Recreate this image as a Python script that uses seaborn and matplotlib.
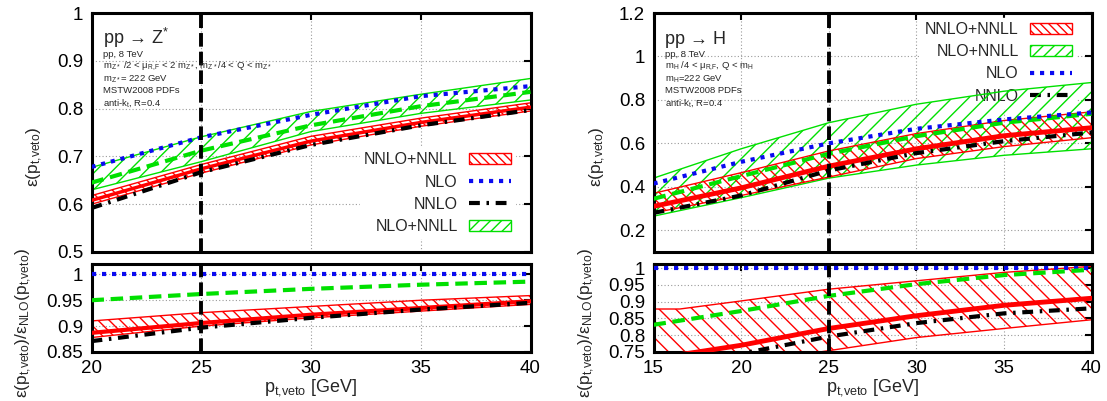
import matplotlib
matplotlib.use("Agg")
import matplotlib.pyplot as plt
import seaborn as sns
from matplotlib.lines import Line2D
from matplotlib.patches import Patch
from matplotlib.ticker import FuncFormatter, MultipleLocator

# ---- pp -> Z* (left column) ----
z_pt = [20, 25, 30, 35, 40]
z_nlo = [0.678, 0.740, 0.787, 0.826, 0.847]
z_nnlo = [0.592, 0.667, 0.724, 0.765, 0.797]
z_nnlo_nnll = [0.608, 0.674, 0.732, 0.771, 0.803]
z_nnlo_nnll_hi = [0.618, 0.683, 0.742, 0.780, 0.812]
z_nnlo_nnll_lo = [0.600, 0.665, 0.724, 0.763, 0.795]
z_nlo_nnll = [0.645, 0.712, 0.765, 0.805, 0.835]
z_nlo_nnll_hi = [0.677, 0.741, 0.794, 0.830, 0.863]
z_nlo_nnll_lo = [0.630, 0.689, 0.752, 0.790, 0.818]
# ratios to NLO
z_r_nlo = [1.0, 1.0, 1.0, 1.0, 1.0]
z_r_nlo_nnll = [0.950, 0.962, 0.972, 0.980, 0.986]
z_r_nnlo = [0.871, 0.897, 0.916, 0.932, 0.945]
z_r_nnlo_nnll = [0.887, 0.906, 0.922, 0.935, 0.948]
z_r_nnlo_nnll_hi = [0.910, 0.926, 0.938, 0.950, 0.959]
z_r_nnlo_nnll_lo = [0.878, 0.900, 0.916, 0.929, 0.942]

# ---- pp -> H (right column) ----
h_pt = [15, 20, 25, 30, 35, 40]
h_nlo = [0.415, 0.515, 0.600, 0.667, 0.710, 0.742]
h_nnlo = [0.280, 0.360, 0.475, 0.555, 0.610, 0.650]
h_nnlo_nnll = [0.310, 0.395, 0.495, 0.575, 0.635, 0.672]
h_nnlo_nnll_hi = [0.370, 0.465, 0.565, 0.645, 0.705, 0.745]
h_nnlo_nnll_lo = [0.280, 0.360, 0.445, 0.530, 0.585, 0.626]
h_nlo_nnll = [0.345, 0.449, 0.552, 0.633, 0.695, 0.736]
h_nlo_nnll_hi = [0.440, 0.575, 0.695, 0.780, 0.840, 0.880]
h_nlo_nnll_lo = [0.265, 0.350, 0.440, 0.500, 0.545, 0.575]
# ratios to NLO
h_r_nlo = [1.0, 1.0, 1.0, 1.0, 1.0, 1.0]
h_r_nlo_nnll = [0.831, 0.872, 0.917, 0.952, 0.979, 0.995]
h_r_nnlo = [0.700, 0.745, 0.796, 0.836, 0.865, 0.880]
h_r_nnlo_nnll = [0.730, 0.770, 0.820, 0.858, 0.889, 0.910]
h_r_band_pt = [15, 16.5, 20, 25, 30, 35, 40]
h_r_nnlo_nnll_hi = [0.878, 0.878, 0.902, 0.937, 0.962, 0.987, 1.005]
h_r_nnlo_nnll_lo = [0.680, 0.690, 0.715, 0.754, 0.793, 0.820, 0.846]

pt_veto = 25

RED = "#ff0000"
BLUE = "#0a0af0"
GREEN = "#00e000"
BLACK = "#000000"

sns.set_style("white")
plt.rcParams["font.family"] = ["Liberation Sans", "DejaVu Sans"]
plt.rcParams["mathtext.default"] = "regular"
plt.rcParams["hatch.linewidth"] = 1.0

fig = plt.figure(figsize=(11.07, 4.01), dpi=100)
W, H = 1107.0, 401.0


def axes_px(x0, y0, x1, y1):
    return fig.add_axes([x0 / W, 1 - y1 / H, (x1 - x0) / W, (y1 - y0) / H])


ax_zt = axes_px(91.5, 13, 530.5, 252)
ax_zb = axes_px(91.5, 264, 530.5, 352)
ax_ht = axes_px(653.5, 13, 1091.5, 252)
ax_hb = axes_px(653.5, 264, 1091.5, 352)

DOT = (0, (1.0, 1.4))
DASH = (0, (3.0, 1.6))
DASHDOT = (0, (2.6, 1.6, 0.6, 1.6))


def band(ax, x, lo, hi, color, hatch):
    ax.fill_between(x, lo, hi, facecolor="none", edgecolor=color,
                    hatch=hatch, linewidth=0, zorder=2)
    sns.lineplot(x=x, y=lo, ax=ax, color=color, linewidth=1.0, zorder=2)
    sns.lineplot(x=x, y=hi, ax=ax, color=color, linewidth=1.0, zorder=2)


def curve(ax, x, y, color, ls, lw=3.0):
    sns.lineplot(x=x, y=y, ax=ax, color=color, linewidth=lw,
                 linestyle=ls, zorder=4)


def style(ax, xlim, ylim, ystep, xlabels=True):
    ax.set_xlim(*xlim)
    ax.set_ylim(*ylim)
    ax.xaxis.set_major_locator(MultipleLocator(5))
    ax.yaxis.set_major_locator(MultipleLocator(ystep))
    ax.yaxis.set_major_formatter(FuncFormatter(lambda v, p: "%g" % round(v, 3)))
    ax.grid(True, color="#9a9a9a", linestyle=(0, (1, 2)), linewidth=0.8)
    ax.set_axisbelow(True)
    ax.tick_params(direction="in", length=5, width=1.5, top=True, right=True,
                   labelsize=13.5, pad=6, colors="black")
    for s in ax.spines.values():
        s.set_linewidth(2.2)
        s.set_color("black")
    if not xlabels:
        ax.tick_params(labelbottom=False)
    ax.axvline(pt_veto, color=BLACK, linewidth=2.8,
               linestyle=(0, (3.5, 1.3)), zorder=6)


hatch_red = "\\\\\\"
hatch_green = "//"

# left top
band(ax_zt, z_pt, z_nlo_nnll_lo, z_nlo_nnll_hi, GREEN, hatch_green)
curve(ax_zt, z_pt, z_nlo_nnll, GREEN, DASH)
band(ax_zt, z_pt, z_nnlo_nnll_lo, z_nnlo_nnll_hi, RED, hatch_red)
curve(ax_zt, z_pt, z_nnlo_nnll, RED, "-", 2.5)
curve(ax_zt, z_pt, z_nnlo, BLACK, DASHDOT)
curve(ax_zt, z_pt, z_nlo, BLUE, DOT)
style(ax_zt, (20, 40), (0.5, 1.0), 0.1, xlabels=False)

# left bottom
curve(ax_zb, z_pt, z_r_nlo, BLUE, DOT)
curve(ax_zb, z_pt, z_r_nlo_nnll, GREEN, DASH)
band(ax_zb, z_pt, z_r_nnlo_nnll_lo, z_r_nnlo_nnll_hi, RED, hatch_red)
curve(ax_zb, z_pt, z_r_nnlo_nnll, RED, "-", 3.0)
curve(ax_zb, z_pt, z_r_nnlo, BLACK, DASHDOT)
style(ax_zb, (20, 40), (0.85, 1.02), 0.05)

# right top
band(ax_ht, h_pt, h_nlo_nnll_lo, h_nlo_nnll_hi, GREEN, hatch_green)
band(ax_ht, h_pt, h_nnlo_nnll_lo, h_nnlo_nnll_hi, RED, hatch_red)
curve(ax_ht, h_pt, h_nlo_nnll, GREEN, DASH)
curve(ax_ht, h_pt, h_nnlo_nnll, RED, "-", 3.5)
curve(ax_ht, h_pt, h_nnlo, BLACK, DASHDOT)
curve(ax_ht, h_pt, h_nlo, BLUE, DOT)
style(ax_ht, (15, 40), (0.1, 1.2), 0.2, xlabels=False)

# right bottom
band(ax_hb, h_r_band_pt, h_r_nnlo_nnll_lo, h_r_nnlo_nnll_hi, RED, "\\\\")
curve(ax_hb, h_pt, h_r_nlo, BLUE, DOT)
curve(ax_hb, h_pt, h_r_nlo_nnll, GREEN, DASH)
curve(ax_hb, h_pt, h_r_nnlo_nnll, RED, "-", 3.5)
curve(ax_hb, h_pt, h_r_nnlo, BLACK, DASHDOT)
style(ax_hb, (15, 40), (0.75, 1.012), 0.05)

# labels
top_lab = "ε(p$_{t{,}veto}$)"
bot_lab = "ε(p$_{t{,}veto}$)/ε$_{NLO}$(p$_{t{,}veto}$)"
for ax in (ax_zt, ax_ht):
    ax.set_ylabel(top_lab, fontsize=12.5)
    ax.yaxis.set_label_coords(-0.105, 0.40)
for ax in (ax_zb, ax_hb):
    ax.set_ylabel(bot_lab, fontsize=12.5)
    ax.yaxis.set_label_coords(-0.13, 0.33)
    ax.set_xlabel("p$_{t{,}veto}$ [GeV]", fontsize=13)
    ax.xaxis.set_label_coords(0.5, -0.29)

# legends
h_nnlo_nnll_leg = Patch(facecolor="white", edgecolor=RED, hatch="\\\\\\\\", linewidth=1)
h_nlo_nnll_leg = Patch(facecolor="white", edgecolor=GREEN, hatch="///", linewidth=1)
h_nlo_leg = Line2D([], [], color=BLUE, linewidth=3, linestyle=DOT)
h_nnlo_leg = Line2D([], [], color=BLACK, linewidth=3, linestyle=DASHDOT)

leg_kw = dict(markerfirst=False, fontsize=11.5, frameon=True, framealpha=1,
              edgecolor="white", facecolor="white", fancybox=False,
              handlelength=2.6, handletextpad=0.7, labelspacing=0.45,
              borderpad=0.25)
leg_z = ax_zt.legend([h_nnlo_nnll_leg, h_nlo_leg, h_nnlo_leg, h_nlo_nnll_leg],
                     ["NNLO+NNLL", "NLO", "NNLO", "NLO+NNLL"], loc="lower right",
                     bbox_to_anchor=(1 - 16 / 439, 14 / 239), borderaxespad=0, **leg_kw)
leg_h = ax_ht.legend([h_nnlo_nnll_leg, h_nlo_nnll_leg, h_nlo_leg, h_nnlo_leg],
                     ["NNLO+NNLL", "NLO+NNLL", "NLO", "NNLO"], loc="upper right",
                     bbox_to_anchor=(1 - 16 / 438, 1 - 5 / 239), borderaxespad=0, **leg_kw)
# key box sits under the curves, over the grid
leg_z.set_zorder(1.5)
leg_h.set_zorder(1.5)

# process annotations
z_info = ["pp, 8 TeV",
          "m$_{Z*}$ /2 < μ$_{R{,}F}$ < 2 m$_{Z*}$, m$_{Z*}$/4 < Q < m$_{Z*}$",
          "m$_{Z*}$= 222 GeV",
          "MSTW2008 PDFs",
          "anti-k$_t$, R=0.4"]
h_info = ["pp, 8 TeV",
          "m$_H$ /4 < μ$_{R{,}F}$, Q < m$_H$",
          "m$_H$=222 GeV",
          "MSTW2008 PDFs",
          "anti-k$_t$, R=0.4"]


def annotate(ax, title, lines):
    ax.text(11.5 / 439, 1 - 31 / 239, title, transform=ax.transAxes,
            fontsize=13, va="baseline", ha="left", zorder=7)
    for i, t in enumerate(lines):
        ax.text(11.5 / 439, 1 - (44 + 12 * i) / 239, t, transform=ax.transAxes,
                fontsize=6.8, va="baseline", ha="left", zorder=7)


annotate(ax_zt, "pp → Z$^{*}$", z_info)
annotate(ax_ht, "pp → H", h_info)

fig.savefig("out.png", dpi=100)
